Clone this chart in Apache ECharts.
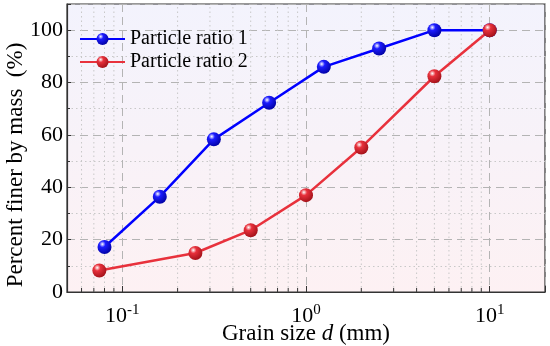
<!DOCTYPE html>
<html>
<head>
<meta charset="utf-8">
<script src="https://cdn.jsdelivr.net/npm/echarts@6/dist/echarts.min.js"></script>
<style>html,body{margin:0;padding:0;background:#fff;}#c{width:550px;height:346px;}</style>
</head>
<body>
<div id="c"></div>
<script>
const ratio1X = [0.08, 0.16, 0.315, 0.63, 1.25, 2.5, 5, 10];
const ratio1Y = [17.2, 36.4, 58.3, 72.3, 86, 93, 100, 100];
const ratio2X = [0.075, 0.25, 0.5, 1, 2, 5, 10];
const ratio2Y = [8.2, 14.9, 23.6, 37, 55.2, 82.4, 100];
const seriesNames = ['Particle ratio 1', 'Particle ratio 2'];
const minorX = [0.06, 0.07, 0.08, 0.09, 0.2, 0.3, 0.4, 0.5, 0.6, 0.7, 0.8, 0.9, 2, 3, 4, 5, 6, 7, 8, 9];

const font = '"Liberation Serif","Times New Roman",serif';
function sphere(base, dark) {
  return {type:'radial', x:0.35, y:0.3, r:0.75,
    colorStops:[{offset:0,color:'#ffffff'},{offset:0.3,color:base},{offset:1,color:dark}]};
}
const chart = echarts.init(document.getElementById('c'));
chart.setOption({
  animation:false,
  grid:{left:67,right:5,top:4,bottom:54,outerBoundsMode:'none',containLabel:false,show:true,borderColor:'#333',borderWidth:1.2,
    backgroundColor:{type:'linear',x:0,y:0,x2:0,y2:1,colorStops:[{offset:0,color:'#f3f3fd'},{offset:1,color:'#fdf1f3'}]}},
  legend:{left:79,top:29,padding:0,orient:'vertical',itemGap:3,itemWidth:45,itemHeight:15,
    textStyle:{fontFamily:font,fontSize:20,color:'#000'},data:seriesNames},
  xAxis:{type:'log',logBase:10,min:0.05,max:20,
    name:'Grain size {i|d} (mm)',nameLocation:'middle',nameGap:30,nameMoveOverlap:false,
    nameTextStyle:{fontFamily:font,fontSize:23,color:'#000',rich:{i:{fontFamily:font,fontSize:23,fontStyle:'italic',color:'#000'}}},
    axisLine:{lineStyle:{color:'#333',width:1.2}},
    axisTick:{inside:true,length:6,lineStyle:{color:'#333'}},
    axisLabel:{margin:11,color:'#000',formatter:function(v){
      const e=Math.log10(v); const r=Math.round(e);
      if(Math.abs(e-r)>1e-6) return '';
      return '{b|10}{s|'+r+'}';},
      rich:{b:{fontFamily:font,fontSize:22,color:'#000'},s:{fontFamily:font,fontSize:15,color:'#000',padding:[0,0,12,0]}}},
    splitLine:{show:true,lineStyle:{color:'#b4b4b4',type:[8,5],width:1}}},
  yAxis:{type:'value',min:0,max:110,interval:20,
    name:'Percent finer by mass  (%)',nameLocation:'middle',nameGap:40,nameMoveOverlap:false,
    nameTextStyle:{fontFamily:font,fontSize:23,color:'#000',padding:[0,34,0,0]},
    axisLine:{show:true,lineStyle:{color:'#333',width:1.2}},
    axisTick:{show:true,inside:true,length:4,lineStyle:{color:'#333'}},
    minorTick:{show:true,splitNumber:2,length:3,lineStyle:{color:'#333'}},
    axisLabel:{margin:4,fontFamily:font,fontSize:22,color:'#000',formatter:function(v){return v>100?'':v;}},
    splitLine:{show:true,lineStyle:{color:'#b4b4b4',type:[8,5],width:1}},
    minorSplitLine:{show:true,lineStyle:{color:'#c8c8c8',type:[1.5,3],width:1}}},
  series:[
    {type:'custom',silent:true,clip:true,z:1,data:minorX.map(v=>[v,0]),
      renderItem:function(params,api){
        const x=api.value(0);
        const p0=api.coord([x,0]); const p1=api.coord([x,110]);
        return {type:'group',children:[
          {type:'line',shape:{x1:p0[0],y1:p0[1],x2:p1[0],y2:p1[1]},style:{stroke:'#c8c8c8',lineWidth:1,lineDash:[1.5,3]}},
          {type:'line',shape:{x1:p0[0],y1:p0[1],x2:p0[0],y2:p0[1]-4},style:{stroke:'#333',lineWidth:1}}
        ]};
      }},
    {name:seriesNames[0],type:'line',z:3,data:ratio1X.map((x,i)=>[x,ratio1Y[i]]),
      symbol:'circle',symbolSize:14,lineStyle:{color:'#0000ff',width:2.5},
      itemStyle:{color:sphere('#1c1cff','#0000a0'),borderWidth:0}},
    {name:seriesNames[1],type:'line',z:3,data:ratio2X.map((x,i)=>[x,ratio2Y[i]]),
      symbol:'circle',symbolSize:14,lineStyle:{color:'#e8313c',width:2.5},
      itemStyle:{color:sphere('#e8313c','#a01018'),borderWidth:0}}
  ]
});
</script>
</body>
</html>
